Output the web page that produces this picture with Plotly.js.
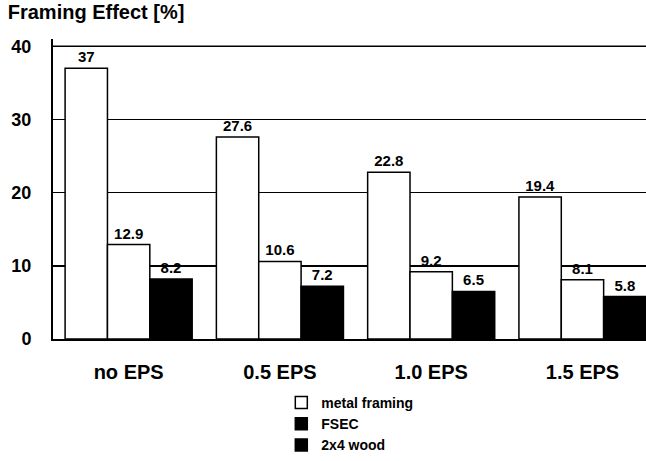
<!DOCTYPE html>
<html>
<head>
<meta charset="utf-8">
<script src="https://cdn.plot.ly/plotly-3.0.1.min.js"></script>
<style>html,body{margin:0;padding:0;background:#fff;}#chart{width:646px;height:461px;}</style>
</head>
<body>
<div id="chart"></div>
<script>
const categories = ["no EPS", "0.5 EPS", "1.0 EPS", "1.5 EPS"];
const metalFraming = [37, 27.6, 22.8, 19.4];
const fsec = [12.9, 10.6, 9.2, 8.1];
const wood2x4 = [8.2, 7.2, 6.5, 5.8];
const yTicks = [0, 10, 20, 30, 40];

const labelFont = {family: "Liberation Sans, Arial, sans-serif", size: 15, color: "#000", weight: "bold"};
const barLine = {color: "#000", width: 1.5};

const traces = [
  {type: "bar", name: "metal framing", x: categories, y: metalFraming, offsetgroup: "a",
   marker: {color: "#fff", line: barLine}, text: metalFraming.map(String),
   textposition: "outside", textfont: labelFont, cliponaxis: false, legendrank: 1},
  {type: "bar", name: "FSEC", x: categories, y: fsec, offsetgroup: "b",
   marker: {color: "#fff", line: barLine}, text: fsec.map(String),
   textposition: "outside", textfont: labelFont, cliponaxis: false, showlegend: false},
  {type: "bar", name: "2x4 wood", x: categories, y: wood2x4, offsetgroup: "c",
   marker: {color: "#000", line: barLine}, text: wood2x4.map(String),
   textposition: "outside", textfont: labelFont, cliponaxis: false, legendrank: 3},
  {type: "bar", name: "FSEC", x: [categories[0]], y: [null], offsetgroup: "b",
   marker: {color: "#000", line: barLine}, legendrank: 2, hoverinfo: "skip"}
];

const layout = {
  width: 646, height: 461,
  margin: {l: 53, r: 0, t: 39, b: 121},
  paper_bgcolor: "#fff", plot_bgcolor: "#fff",
  barmode: "group", bargap: 0.16, bargroupgap: 0,
  title: {text: "Framing Effect [%]", x: 0.012, xanchor: "left", y: 0.99, yanchor: "top",
          font: {family: "Liberation Sans, Arial, sans-serif", size: 20, color: "#000", weight: "bold"}},
  xaxis: {type: "category", range: [-0.5, 3.42], showgrid: false, showline: true,
          linecolor: "#000", linewidth: 2, ticks: "", ticklabelstandoff: 14,
          tickfont: {family: "Liberation Sans, Arial, sans-serif", size: 20, color: "#000", weight: "bold"}},
  yaxis: {range: [0, 41], tickvals: yTicks, ticktext: yTicks.map(String),
          showgrid: true, gridcolor: "#000", gridwidth: 1.5, zeroline: false,
          showline: true, linecolor: "#000", linewidth: 2, ticks: "", ticklabelstandoff: 16,
          tickfont: {family: "Liberation Sans, Arial, sans-serif", size: 18, color: "#000", weight: "bold"}},
  shapes: [{type: "line", layer: "below", xref: "paper", yref: "y", x0: 0, x1: 1,
            y0: yTicks[yTicks.length - 1], y1: yTicks[yTicks.length - 1],
            line: {color: "#000", width: 1.5}}],
  legend: {x: 0.385, xanchor: "left", y: -0.16, yanchor: "top", orientation: "v",
           traceorder: "normal", tracegroupgap: 0, itemwidth: 30,
           font: {family: "Liberation Sans, Arial, sans-serif", size: 14, color: "#000", weight: "bold"},
           bgcolor: "rgba(0,0,0,0)"},
  showlegend: true
};

Plotly.newPlot("chart", traces, layout, {displayModeBar: false, staticPlot: true});
</script>
</body>
</html>
